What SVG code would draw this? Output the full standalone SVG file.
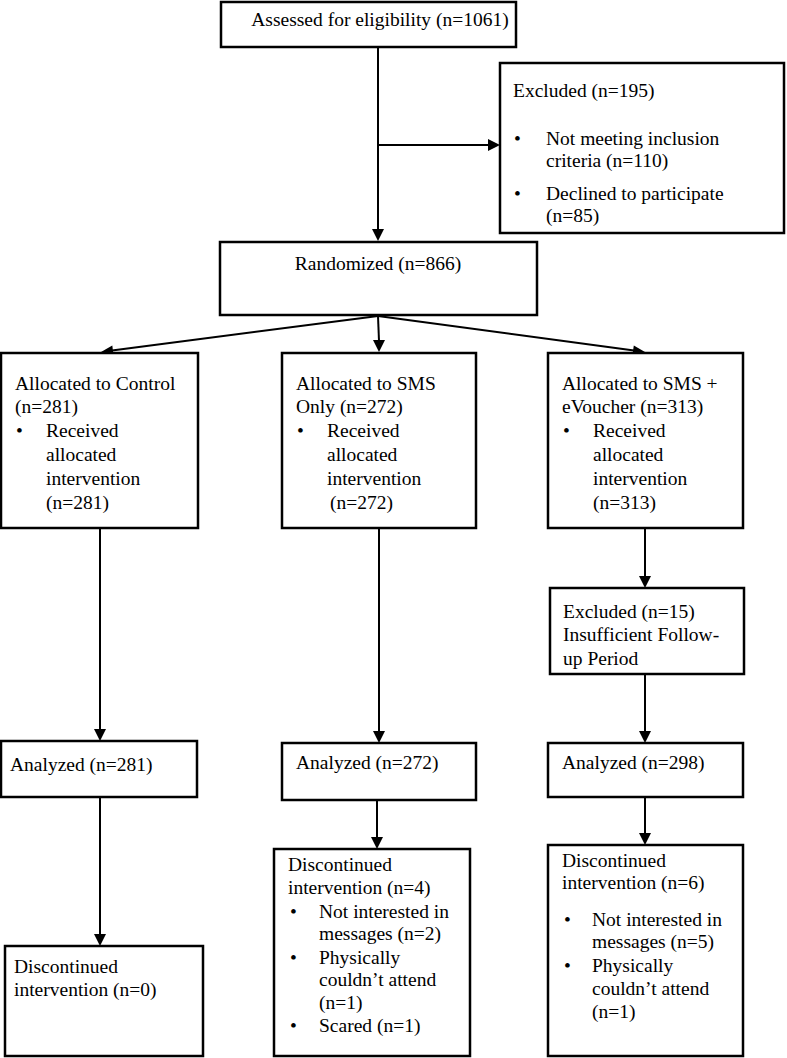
<svg xmlns="http://www.w3.org/2000/svg" width="787" height="1058" viewBox="0 0 787 1058">
<style>
.box{fill:#fff;stroke:#000;stroke-width:2.5}
.t text{fill:#000}
.c{stroke:#000;stroke-width:2;fill:none}
.ah{fill:#000;stroke:none}
</style>
<rect width="787" height="1058" fill="#fff"/>
<g id="connectors">
<line class="c" x1="378" y1="47" x2="378" y2="230"/>
<polygon class="ah" points="372,229 384,229 378,241"/>
<line class="c" x1="378" y1="145" x2="489" y2="145"/>
<polygon class="ah" points="488,139 488,151 500,145"/>
<line class="c" x1="378" y1="316" x2="112" y2="350.5"/>
<polygon class="ah" points="112.3,345.5 113.5,355.4 101,352"/>
<line class="c" x1="378" y1="316" x2="379" y2="341"/>
<polygon class="ah" points="373,340 385,340 379,352"/>
<line class="c" x1="378" y1="316" x2="634" y2="350.5"/>
<polygon class="ah" points="632.4,355.4 633.8,345.4 645,352"/>
<line class="c" x1="100" y1="528" x2="100" y2="730"/>
<polygon class="ah" points="94,729 106,729 100,741"/>
<line class="c" x1="379" y1="528" x2="379" y2="732"/>
<polygon class="ah" points="373,731 385,731 379,743"/>
<line class="c" x1="645" y1="528" x2="645" y2="577"/>
<polygon class="ah" points="639,576 651,576 645,588"/>
<line class="c" x1="645" y1="674" x2="645" y2="732"/>
<polygon class="ah" points="639,731 651,731 645,743"/>
<line class="c" x1="100" y1="797" x2="100" y2="935"/>
<polygon class="ah" points="94,934 106,934 100,946"/>
<line class="c" x1="377" y1="800" x2="377" y2="838"/>
<polygon class="ah" points="371,837 383,837 377,849"/>
<line class="c" x1="645" y1="797" x2="645" y2="834"/>
<polygon class="ah" points="639,833 651,833 645,845"/>
</g>
<g class="t" font-family="'Liberation Serif', Tinos, 'Times New Roman', Times, 'DejaVu Serif', serif" font-size="19.5">
<g id="assessed">
<rect class="box" x="221" y="2" width="295" height="45"/>
<text x="380" y="26" text-anchor="middle">Assessed for eligibility (n=1061)</text>
</g>
<g id="excluded">
<rect class="box" x="500" y="63" width="284" height="170"/>
<text x="513" y="97">Excluded (n=195)</text>
<text x="514" y="145">•</text>
<text x="546" y="145">Not meeting inclusion</text>
<text x="546" y="167">criteria (n=110)</text>
<text x="514" y="200">•</text>
<text x="546" y="200">Declined to participate</text>
<text x="546" y="222">(n=85)</text>
</g>
<g id="randomized">
<rect class="box" x="220" y="242" width="317" height="73"/>
<text x="378" y="270" text-anchor="middle">Randomized (n=866)</text>
</g>
<g id="alloc-control">
<rect class="box" x="1" y="353" width="197" height="175"/>
<text x="15" y="390">Allocated to Control</text>
<text x="15" y="413">(n=281)</text>
<text x="16" y="437">•</text>
<text x="46" y="437">Received</text>
<text x="46" y="461">allocated</text>
<text x="46" y="485">intervention</text>
<text x="46" y="509">(n=281)</text>
</g>
<g id="alloc-sms">
<rect class="box" x="282" y="353" width="194" height="175"/>
<text x="296" y="390">Allocated to SMS</text>
<text x="296" y="413">Only (n=272)</text>
<text x="297" y="437">•</text>
<text x="327" y="437">Received</text>
<text x="327" y="461">allocated</text>
<text x="327" y="485">intervention</text>
<text x="330" y="509">(n=272)</text>
</g>
<g id="alloc-evoucher">
<rect class="box" x="548" y="353" width="195" height="175"/>
<text x="562" y="390">Allocated to SMS +</text>
<text x="562" y="413">eVoucher (n=313)</text>
<text x="563" y="437">•</text>
<text x="593" y="437">Received</text>
<text x="593" y="461">allocated</text>
<text x="593" y="485">intervention</text>
<text x="593" y="509">(n=313)</text>
</g>
<g id="excluded-15">
<rect class="box" x="550" y="588" width="194" height="86"/>
<text x="563" y="618">Excluded (n=15)</text>
<text x="563" y="641">Insufficient Follow-</text>
<text x="563" y="665">up Period</text>
</g>
<g id="analyzed-control">
<rect class="box" x="1" y="741" width="196" height="56"/>
<text x="10" y="771">Analyzed (n=281)</text>
</g>
<g id="analyzed-sms">
<rect class="box" x="282" y="743" width="194" height="57"/>
<text x="296" y="769">Analyzed (n=272)</text>
</g>
<g id="analyzed-evoucher">
<rect class="box" x="548" y="743" width="195" height="54"/>
<text x="562" y="769">Analyzed (n=298)</text>
</g>
<g id="disc-control">
<rect class="box" x="5" y="946" width="198" height="110"/>
<text x="14" y="973">Discontinued</text>
<text x="14" y="996">intervention (n=0)</text>
</g>
<g id="disc-sms">
<rect class="box" x="274" y="849" width="196" height="207"/>
<text x="288" y="871">Discontinued</text>
<text x="288" y="894">intervention (n=4)</text>
<text x="290" y="918">•</text>
<text x="319" y="918">Not interested in</text>
<text x="319" y="940">messages (n=2)</text>
<text x="290" y="964">•</text>
<text x="319" y="964">Physically</text>
<text x="319" y="986">couldn’t attend</text>
<text x="319" y="1009">(n=1)</text>
<text x="290" y="1032">•</text>
<text x="319" y="1032">Scared (n=1)</text>
</g>
<g id="disc-evoucher">
<rect class="box" x="548" y="845" width="195" height="211"/>
<text x="562" y="867">Discontinued</text>
<text x="562" y="889">intervention (n=6)</text>
<text x="564" y="926">•</text>
<text x="592" y="926">Not interested in</text>
<text x="592" y="948">messages (n=5)</text>
<text x="564" y="972">•</text>
<text x="592" y="972">Physically</text>
<text x="592" y="995">couldn’t attend</text>
<text x="592" y="1018">(n=1)</text>
</g>
</g>
</svg>
